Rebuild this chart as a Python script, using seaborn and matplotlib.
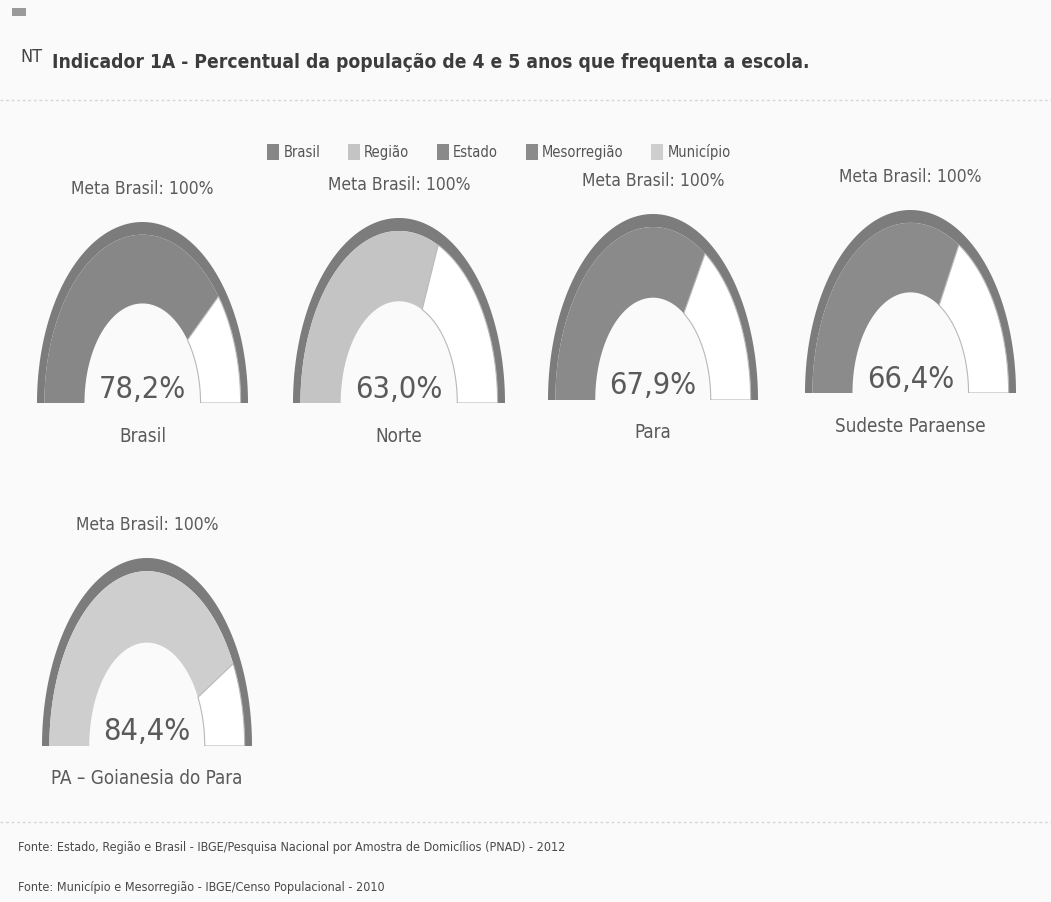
import numpy as np
import matplotlib
matplotlib.use("Agg")
import matplotlib.pyplot as plt
import seaborn as sns
from matplotlib.patches import Patch, Rectangle
from matplotlib.lines import Line2D

# ---------------- data ----------------
regions = ["Brasil", "Norte", "Para", "Sudeste Paraense", "PA – Goianesia do Para"]
levels = ["Brasil", "Região", "Estado", "Mesorregião", "Município"]
values = [78.2, 63.0, 67.9, 66.4, 84.4]
value_labels = ["78,2%", "63,0%", "67,9%", "66,4%", "84,4%"]
meta_value = 100
meta_label = "Meta Brasil: 100%"
title = "Indicador 1A - Percentual da população de 4 e 5 anos que frequenta a escola."
sources = [
    "Fonte: Estado, Região e Brasil - IBGE/Pesquisa Nacional por Amostra de Domicílios (PNAD) - 2012",
    "Fonte: Município e Mesorregião - IBGE/Censo Populacional - 2010",
]

# ---------------- style ----------------
sns.set_theme(style="white")
NARROW = ["Liberation Sans Narrow", "DejaVu Sans"]
plt.rcParams["font.family"] = NARROW
plt.rcParams["font.stretch"] = "condensed"

level_colors = dict(zip(levels, ["#878787", "#c4c4c4", "#8a8a8a", "#8b8b8b", "#cecece"]))
ring_color = "#7c7c7c"
text_color = "#5a5a5a"

W, H = 1051, 902
fig = plt.figure(figsize=(W / 100, H / 100), dpi=100, facecolor="#fafafa")


def fig_box(x0, y0, x1, y1):
    return [x0 / W, 1 - y1 / H, (x1 - x0) / W, (y1 - y0) / H]


def band(r0, r1, t0, t1, n=200):
    t = np.linspace(t0, t1, n)
    x = np.concatenate([r1 * np.cos(t), r0 * np.cos(t[::-1])])
    y = np.concatenate([r1 * np.sin(t), r0 * np.sin(t[::-1])])
    return x, y


# gauge boxes in pixels (left, top, right, bottom)
boxes = [(37, 222, 248, 403), (293, 218, 505, 403), (548, 214, 758, 400),
         (805, 210, 1016, 393), (42, 558, 252, 746)]

R_IN, R_RING = 0.55, 0.93

for (reg, lvl, v, vl, box) in zip(regions, levels, values, value_labels, boxes):
    ax = fig.add_axes(fig_box(*box))
    ax.set_xlim(-1, 1)
    ax.set_ylim(0, 1)
    ax.axis("off")
    # meta ring (100%)
    x, y = band(R_RING, 1.0, np.pi, np.pi - meta_value / 100 * np.pi)
    ax.fill(x, y, color=ring_color, lw=0)
    tv = np.pi - v / 100 * np.pi
    x, y = band(R_IN, R_RING, np.pi, tv)
    ax.fill(x, y, color=level_colors[lvl], lw=0)
    x, y = band(R_IN, R_RING, tv, 0)
    ax.fill(x, y, facecolor="white", edgecolor="#b8b8b8", lw=0.8)

    x0, y0, x1, y1 = box
    cx = (x0 + x1) / 2
    fig.text(cx / W, 1 - (y0 - 33) / H, meta_label, ha="center", va="center",
             fontsize=12.5, color=text_color)
    fig.text(cx / W, 1 - (y1 - 14) / H, vl, ha="center", va="center",
             fontsize=22, color=text_color)
    fig.text(cx / W, 1 - (y1 + 33) / H, reg, ha="center", va="center",
             fontsize=13.5, color=text_color)

# title
fig.text(20 / W, 1 - 57 / H, "NT", fontsize=13, color="#444444", va="center")
fig.text(52 / W, 1 - 62 / H, title, fontsize=13.8, fontweight="bold",
         color="#3c3c3c", va="center")
fig.add_artist(Rectangle((12 / W, 1 - 16 / H), 14 / W, 8 / H, transform=fig.transFigure,
                         facecolor="#9a9a9a", edgecolor="none"))

# separator lines
for yy in (100, 822):
    fig.add_artist(Line2D([0, 1], [1 - yy / H, 1 - yy / H], transform=fig.transFigure,
                          color="#d6d6d6", lw=1, ls=(0, (2, 2))))

# legend
handles = [Patch(facecolor=level_colors[l], edgecolor="none", label=l) for l in levels]
leg = fig.legend(handles=handles, loc="center", bbox_to_anchor=(499 / W, 1 - 152 / H),
                 ncol=5, frameon=False, fontsize=10.5, handlelength=0.8, handleheight=1.3,
                 handletextpad=0.3, columnspacing=1.9)
for t in leg.get_texts():
    t.set_color("#555555")

# sources
fig.text(18 / W, 1 - 848 / H, sources[0], fontsize=9, color="#4a4a4a", va="center")
fig.text(18 / W, 1 - 888 / H, sources[1], fontsize=9, color="#4a4a4a", va="center")

fig.savefig("out.png", dpi=100, facecolor=fig.get_facecolor())
